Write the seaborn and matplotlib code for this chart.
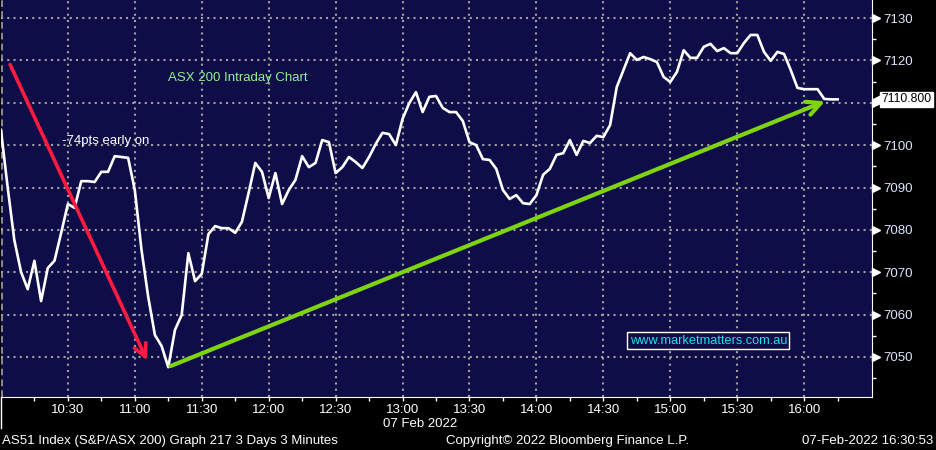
import numpy as np
import pandas as pd
import seaborn as sns
import matplotlib.pyplot as plt
from matplotlib.lines import Line2D

# ASX 200 3-minute closes, 07 Feb 2022, starting 10:00
closes = [7103.6, 7090.1, 7077.6, 7070.1, 7066.0, 7072.7, 7063.2, 7071.0, 7072.7, 7079.3,
          7086.1, 7085.2, 7091.5, 7091.5, 7091.3, 7093.7, 7093.7, 7097.4, 7097.2, 7097.0,
          7089.4, 7075.3, 7064.2, 7055.2, 7052.6, 7047.6, 7056.4, 7059.9, 7074.5, 7067.9,
          7069.6, 7079.0, 7080.9, 7080.4, 7080.4, 7079.3, 7081.9, 7088.7, 7095.8, 7093.7,
          7087.5, 7093.4, 7086.1, 7089.4, 7091.8, 7097.4, 7094.8, 7095.8, 7101.2, 7100.7,
          7093.4, 7094.8, 7097.2, 7096.0, 7094.6, 7097.2, 7100.3, 7102.9, 7102.6, 7100.0,
          7106.2, 7109.9, 7112.5, 7107.8, 7111.4, 7111.6, 7108.8, 7107.8, 7107.8, 7105.7,
          7100.7, 7100.0, 7096.7, 7096.5, 7094.4, 7089.4, 7087.3, 7088.2, 7086.3, 7086.1,
          7088.2, 7093.0, 7094.4, 7097.7, 7098.1, 7101.2, 7097.7, 7101.0, 7100.5, 7102.2,
          7101.9, 7104.7, 7113.7, 7117.7, 7121.7, 7120.1, 7120.8, 7120.3, 7119.6, 7116.1,
          7114.9, 7117.3, 7122.4, 7120.6, 7120.6, 7123.2, 7123.9, 7122.2, 7122.9, 7121.7,
          7121.7, 7124.1, 7126.0, 7126.0, 7122.0, 7119.9, 7122.0, 7121.5, 7117.7, 7113.5,
          7113.2, 7113.2, 7113.2, 7110.9, 7110.8, 7110.8]
bar_minutes = 3
time_labels = ["10:30", "11:00", "11:30", "12:00", "12:30", "13:00",
               "13:30", "14:00", "14:30", "15:00", "15:30", "16:00"]
y_major = [7050, 7060, 7070, 7080, 7090, 7100, 7110, 7120, 7130]
last_value = 7110.8
last_price = "7110.800"

# annotations (minutes after 10:00, index level)
red_start, red_end = (3.6, 7119.6), (66.0, 7048.6)
green_start, green_end = (74.8, 7047.6), (370.5, 7110.6)

df = pd.DataFrame({"minute": np.arange(len(closes)) * bar_minutes, "close": closes})
tick_pos = [(int(t[:2]) - 10) * 60 + int(t[3:]) for t in time_labels]

navy = "#0f0d47"
grid_c = "#a0a0a0"
font = "Liberation Sans"

fig = plt.figure(figsize=(9.36, 4.5), dpi=100, facecolor="black")
ax = fig.add_axes([0.001, 1 - 397 / 450, 872 / 936 - 0.001, 397 / 450])
ax.set_facecolor(navy)

for t in tick_pos:
    ax.axvline(t, color=grid_c, lw=1.5, ls=(0, (1, 2)), zorder=1)
for v in y_major:
    ax.axhline(v, color=grid_c, lw=1.5, ls=(0, (1, 2)), zorder=1)
ax.axvline(0.6, color=grid_c, lw=1.2, ls=(0, (4, 2.5)), zorder=1)

sns.lineplot(data=df, x="minute", y="close", ax=ax, color="white", lw=1.9, zorder=3)

ax.set_xlim(0, 390.4)
ax.set_ylim(7040.56, 7134.25)
ax.set_xlabel("")
ax.set_ylabel("")

# x axis
ax.set_xticks(tick_pos)
ax.set_xticklabels(time_labels, color="white", fontsize=9.5, family=font)
ax.set_xticks(np.arange(15, 390, 15), minor=True)
ax.tick_params(axis="x", which="both", direction="out", length=3, color="white", width=1, pad=2)

# y axis on the right (the 7110 label sits under the last-price tag)
ax.yaxis.tick_right()
ax.set_yticks(y_major)
ax.set_yticklabels(["" if v == 7110 else str(v) for v in y_major],
                   color="#dde6ff", fontsize=9.5, family=font)
ax.set_yticks(np.arange(7045, 7135, 10), minor=True)
ax.tick_params(axis="y", which="major", length=0, pad=8)
ax.tick_params(axis="y", which="minor", direction="out", length=3, color="white", width=1)
ax.plot([1.0045] * len(y_major), y_major, ls="none", marker=">", ms=5.5, color="white",
        transform=ax.get_yaxis_transform(), clip_on=False, zorder=5)

for s in ["top", "left"]:
    ax.spines[s].set_visible(False)
ax.spines["right"].set_color("white")
ax.spines["bottom"].set_color("white")

# last price tag
ax.plot([1.0075], [last_value], ls="none", marker="<", ms=9, color="white",
        transform=ax.get_yaxis_transform(), clip_on=False, zorder=5)
ax.text(1.0105, last_value, last_price, transform=ax.get_yaxis_transform(), ha="left", va="center",
        color="black", fontsize=8.8, family=font,
        bbox=dict(boxstyle="square,pad=0.12", fc="white", ec="white"), zorder=6)

# arrows and notes
ax.annotate("", xy=red_end, xytext=red_start,
            arrowprops=dict(arrowstyle="->,head_length=0.9,head_width=0.45", color="#ff1a40", lw=2.6),
            zorder=4)
ax.annotate("", xy=green_end, xytext=green_start,
            arrowprops=dict(arrowstyle="->,head_length=1.0,head_width=0.5", color="#7ed40e", lw=3),
            zorder=4)
ax.text(74.8, 7115.8, "ASX 200 Intraday Chart", color="#90f090", fontsize=9.5, family=font,
        ha="left", va="center")
ax.text(27.3, 7101.0, "-74pts early on", color="white", fontsize=9.5, family=font,
        ha="left", va="center")
ax.text(317, 7053.8, "www.marketmatters.com.au", color="#20e0f0", fontsize=9.2, family=font,
        ha="center", va="center",
        bbox=dict(boxstyle="square,pad=0.2", fc=navy, ec="white", lw=1))

# footer
fig.add_artist(Line2D([0.0015, 0.0015], [1 - 397 / 450, 1 - 428 / 450], color="white", lw=1))
fig.text(420 / 936, 1 - 424 / 450, "07 Feb 2022", color="white", fontsize=9.5, family=font,
         ha="center", va="center")
fig.text(2 / 936, 1 - 441 / 450, "AS51 Index (S&P/ASX 200) Graph 217 3 Days 3 Minutes",
         color="white", fontsize=9.5, family=font, ha="left", va="center")
fig.text(567 / 936, 1 - 441 / 450, "Copyright© 2022 Bloomberg Finance L.P.",
         color="white", fontsize=9.5, family=font, ha="center", va="center")
fig.text(933 / 936, 1 - 441 / 450, "07-Feb-2022 16:30:53",
         color="white", fontsize=9.5, family=font, ha="right", va="center")

fig.savefig("out.png", dpi=100, facecolor="black")
